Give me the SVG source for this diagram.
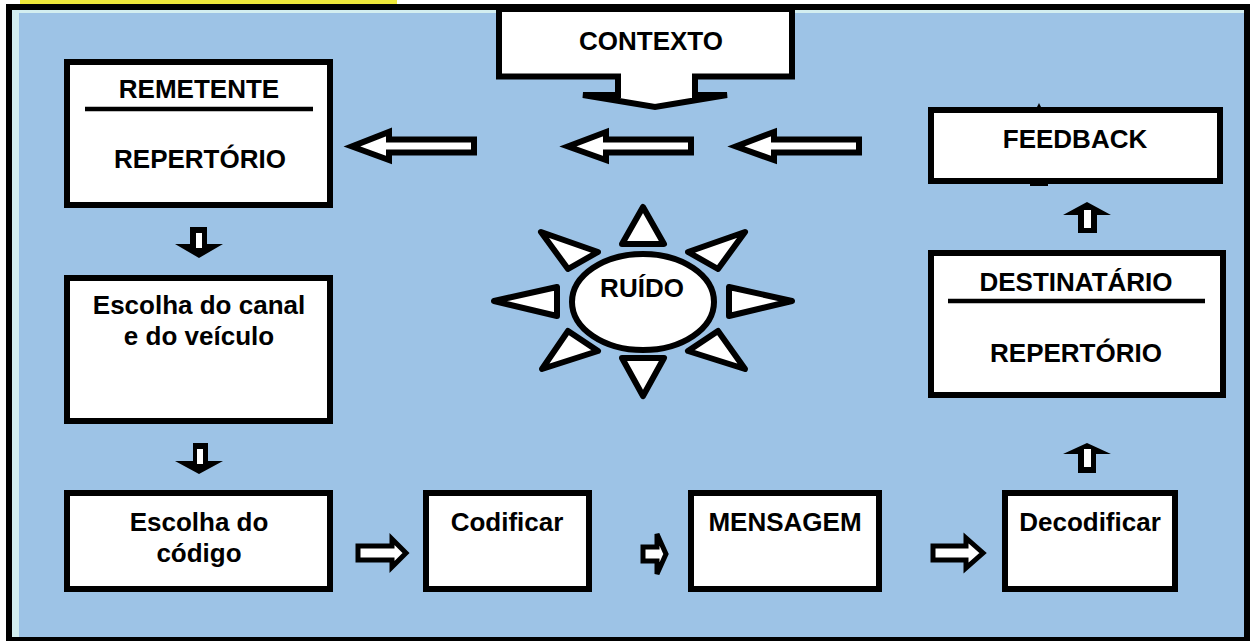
<svg xmlns="http://www.w3.org/2000/svg" width="1250" height="641" viewBox="0 0 1250 641">
<style>
.box{fill:#fff;stroke:#000;stroke-width:6}
.t{font-family:"Liberation Sans",Arial,sans-serif;font-weight:bold;font-size:26px;fill:#000;text-anchor:middle}
.arr{fill:#fff;stroke:#000;stroke-width:6;stroke-linejoin:miter}
.rarr{fill:#fff;stroke:#000;stroke-width:5;stroke-linejoin:miter}
.blk{fill:#000}
.wht{fill:#fff}
.tri{fill:#fff;stroke:#000;stroke-width:6;stroke-linejoin:round}
</style>
<rect x="20" y="0" width="377" height="4" fill="#EEE83A"/>
<rect x="6" y="4" width="1244" height="637" fill="#000"/>
<rect x="12" y="10" width="1232" height="627" fill="#D3EEF0"/>
<rect x="19" y="13" width="1225" height="624" fill="#9DC3E6"/>

<g id="contexto">
<path class="arr" d="M499,9 H792 V76.5 H695 V95 H727 L655,107 L583,95 H618 V76.5 H499 Z"/>
<text class="t" x="651" y="50">CONTEXTO</text>
</g>

<g id="remetente">
<rect class="box" x="67" y="62" width="263" height="143"/>
<text class="t" x="199" y="98">REMETENTE</text>
<line x1="85" y1="109" x2="313" y2="109" stroke="#000" stroke-width="4.5"/>
<text class="t" x="200" y="168">REPERTÓRIO</text>
</g>

<g id="canal">
<rect class="box" x="67" y="278" width="263" height="143"/>
<text class="t" x="199" y="314">Escolha do canal</text>
<text class="t" x="199" y="345">e do veículo</text>
</g>

<g id="codigo">
<rect class="box" x="67" y="493" width="263" height="96"/>
<text class="t" x="199" y="531">Escolha do</text>
<text class="t" x="199" y="562">código</text>
</g>

<g id="codificar">
<rect class="box" x="426" y="493" width="163" height="96"/>
<text class="t" x="507" y="531">Codificar</text>
</g>

<g id="mensagem">
<rect class="box" x="691" y="493" width="188" height="96"/>
<text class="t" x="785" y="531">MENSAGEM</text>
</g>

<g id="decodificar">
<rect class="box" x="1005" y="493" width="170" height="96"/>
<text class="t" x="1090" y="531">Decodificar</text>
</g>

<g id="destinatario">
<rect class="box" x="931" y="253" width="292" height="142"/>
<text class="t" x="1076" y="291">DESTINATÁRIO</text>
<line x1="948" y1="301" x2="1205" y2="301" stroke="#000" stroke-width="4.5"/>
<text class="t" x="1076" y="362">REPERTÓRIO</text>
</g>

<g id="feedback">
<path class="blk" d="M1037,107 L1039,103 L1041,107 Z"/>
<rect class="blk" x="1030" y="183" width="18" height="3"/>
<rect class="box" x="931" y="110" width="289" height="71"/>
<text class="t" x="1075" y="148">FEEDBACK</text>
</g>

<g id="ruido">
<path class="tri" d="M643,207 L664,244 L622,244 Z"/>
<path class="tri" d="M643,396 L664,358 L622,358 Z"/>
<path class="tri" d="M494,301 L557,287 L557,316 Z"/>
<path class="tri" d="M792,301 L729,287 L729,316 Z"/>
<path class="tri" d="M541,232 L598,252 L568,269 Z"/>
<path class="tri" d="M745,232 L688,252 L718,269 Z"/>
<path class="tri" d="M542,369 L568,331 L598,351 Z"/>
<path class="tri" d="M745,369 L718,331 L688,351 Z"/>
<ellipse cx="643" cy="302" rx="71" ry="48" fill="#fff" stroke="#000" stroke-width="6"/>
<text class="t" x="642" y="297">RUÍDO</text>
</g>

<g id="connectors">
<path class="arr" d="M474,139.5 H389 V132 L352,146.5 L389,160 V152.5 H474 Z"/>
<path class="arr" d="M691,139.5 H606 V132 L568,146.5 L606,160 V152.5 H691 Z"/>
<path class="arr" d="M859,139.5 H774 V132 L736,146.5 L774,160 V152.5 H859 Z"/>

<path class="blk" d="M190,227 H207 V244 H223 L199,258 L175,244 H190 Z"/>
<rect class="wht" x="196" y="233" width="6" height="15"/>
<path class="blk" d="M193,443 H208 V461 H223 L199,474 L175,461 H193 Z"/>
<rect class="wht" x="197" y="449" width="6" height="15"/>

<path class="blk" d="M1087,202 L1111,215 H1097 V233 H1078 V215 H1063 Z"/>
<rect class="wht" x="1084" y="210" width="7" height="18"/>
<path class="blk" d="M1087,443 L1111,454 H1096 V473 H1078 V454 H1063 Z"/>
<rect class="wht" x="1084" y="449" width="7" height="18"/>

<path class="rarr" d="M358,546 H392 V539 L406,553 L392,567 V560 H358 Z"/>
<path class="rarr" d="M643,547 H657 V534 L666,554 L657,574 V561 H643 Z"/>
<path class="rarr" d="M933,546 H966 V538 L983,553 L966,568 V560 H933 Z"/>
</g>
</svg>
